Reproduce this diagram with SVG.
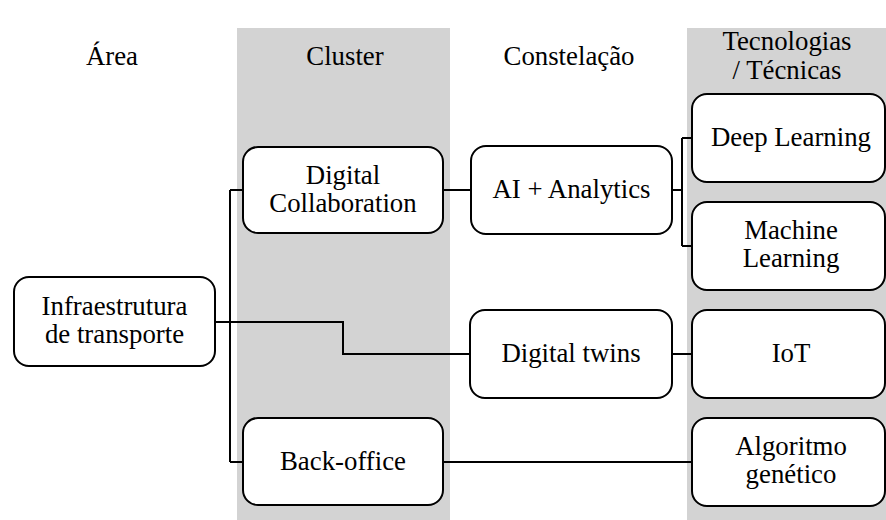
<svg xmlns="http://www.w3.org/2000/svg" width="886" height="520" viewBox="0 0 886 520">
<style>
.band{fill:#d3d3d3}
.node rect{fill:#fff;stroke:#000;stroke-width:2}
.conn path{fill:none;stroke:#000;stroke-width:2}
</style>
<rect width="886" height="520" fill="#fff"/>
<rect class="band" x="237" y="28" width="213" height="492"/>
<rect class="band" x="687" y="28" width="199" height="492"/>
<g font-family="Liberation Serif, Times New Roman, serif" font-size="26.8" text-anchor="middle" fill="#000">
<g id="headers">
<text x="112" y="65">Área</text>
<text x="345" y="65">Cluster</text>
<text x="569" y="65">Constelação</text>
<text x="787" y="50">Tecnologias</text>
<text x="787" y="79">/ Técnicas</text>
</g>
<g class="conn" id="connectors">
<path d="M215,322 H230 M230,190 V462 M230,190 H243 M230,462 H243"/>
<path d="M215,322 H343 V354 H470"/>
<path d="M443,190 H471"/>
<path d="M672,190 H682 M682,138 V246 M682,138 H692 M682,246 H692"/>
<path d="M672,354 H692"/>
<path d="M443,462 H692"/>
</g>
<g class="node" id="infra"><rect x="14" y="277" width="201" height="89" rx="15"/><text x="114.5" y="315">Infraestrutura</text><text x="114.5" y="343">de transporte</text></g>
<g class="node" id="digcollab"><rect x="243" y="147" width="200" height="86" rx="15"/><text x="343" y="184">Digital</text><text x="343" y="212">Collaboration</text></g>
<g class="node" id="backoffice"><rect x="243" y="418" width="200" height="87" rx="15"/><text x="343" y="470">Back-office</text></g>
<g class="node" id="ai"><rect x="471" y="146" width="201" height="88" rx="15"/><text x="571.5" y="198">AI + Analytics</text></g>
<g class="node" id="twins"><rect x="470" y="310" width="202" height="88" rx="15"/><text x="571" y="362">Digital twins</text></g>
<g class="node" id="deep"><rect x="692" y="94" width="193" height="88" rx="15"/><text x="791" y="146">Deep Learning</text></g>
<g class="node" id="ml"><rect x="692" y="202" width="193" height="88" rx="15"/><text x="791" y="239">Machine</text><text x="791" y="267">Learning</text></g>
<g class="node" id="iot"><rect x="692" y="310" width="193" height="88" rx="15"/><text x="791" y="362">IoT</text></g>
<g class="node" id="algo"><rect x="692" y="418" width="193" height="88" rx="15"/><text x="791" y="455">Algoritmo</text><text x="791" y="483">genético</text></g>
</g>
</svg>
